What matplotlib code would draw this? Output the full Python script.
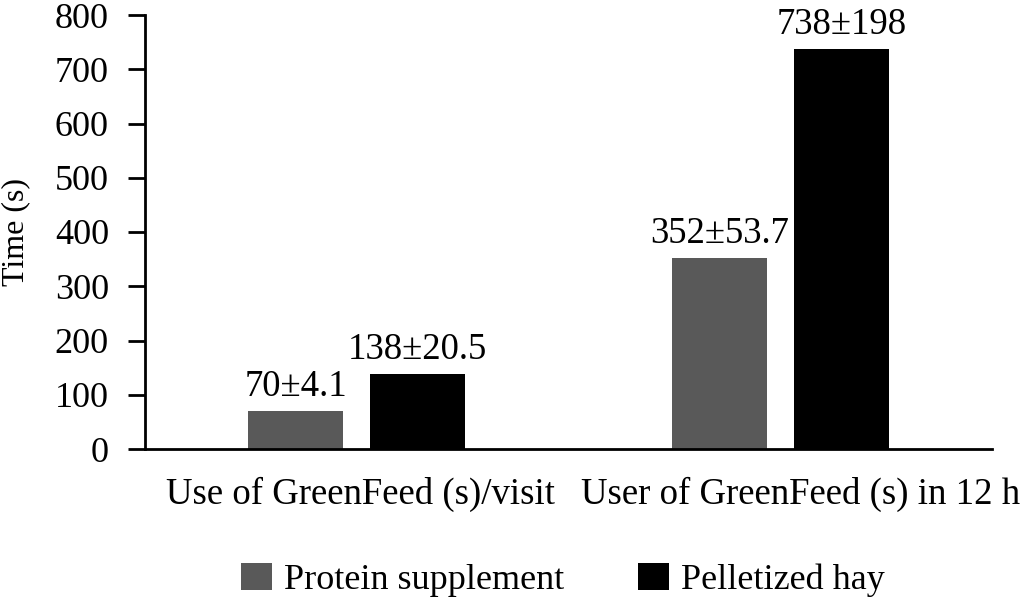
import numpy as np
import matplotlib
matplotlib.use("Agg")
import matplotlib.pyplot as plt
from matplotlib.transforms import ScaledTranslation

categories = ["Use of GreenFeed (s)/visit", "User of GreenFeed (s) in 12 h"]
series_names = ["Protein supplement", "Pelletized hay"]
protein = [70, 352]
hay = [138, 738]
protein_labels = ["70\u00b14.1", "352\u00b153.7"]
hay_labels = ["138\u00b120.5", "738\u00b1198"]
yticks = [0, 100, 200, 300, 400, 500, 600, 700, 800]


def main():
    plt.rcParams['font.family'] = ['Liberation Serif', 'DejaVu Serif']
    fig = plt.figure(figsize=(10.24, 6), dpi=100)
    ax = fig.add_axes([145 / 1024, 1 - 449 / 600, 847 / 1024, 434 / 600])

    x = np.arange(len(categories))
    width = 0.224
    off = 0.144

    b1 = ax.bar(x - off, protein, width, color="#595959", label=series_names[0])
    b2 = ax.bar(x + off, hay, width, color="#000000", label=series_names[1])

    ax.bar_label(b1, labels=protein_labels, padding=5, fontsize=26.5)
    ax.bar_label(b2, labels=hay_labels, padding=5, fontsize=26.5)

    ax.set_xlim(-0.5, 1.5)
    ax.set_ylim(0, 800)
    ax.set_yticks(yticks)
    ax.set_xticks(x, categories)
    ax.tick_params(axis='y', labelsize=26, length=12, width=2, direction='out', pad=14)
    ax.tick_params(axis='x', labelsize=26.5, length=0, pad=20)
    ax.set_ylabel("Time (s)", fontsize=23, labelpad=18)

    # the second category label sits a little right of its group in the original
    shifts = [4, 20]
    for lab, dx in zip(ax.get_xticklabels(), shifts):
        lab.set_transform(lab.get_transform() + ScaledTranslation(dx / 100, 0, fig.dpi_scale_trans))

    for s in ["top", "right"]:
        ax.spines[s].set_visible(False)
    ax.spines["left"].set_linewidth(2)
    ax.spines["bottom"].set_linewidth(2)

    fig.legend(handles=[b1, b2], loc='center', bbox_to_anchor=(563 / 1024, 1 - 580 / 600),
               ncol=2, frameon=False, fontsize=26, handlelength=0.86, handleheight=0.78,
               handletextpad=0.33, columnspacing=2.05, borderpad=0)

    fig.savefig("out.png", dpi=100)


if __name__ == "__main__":
    main()
